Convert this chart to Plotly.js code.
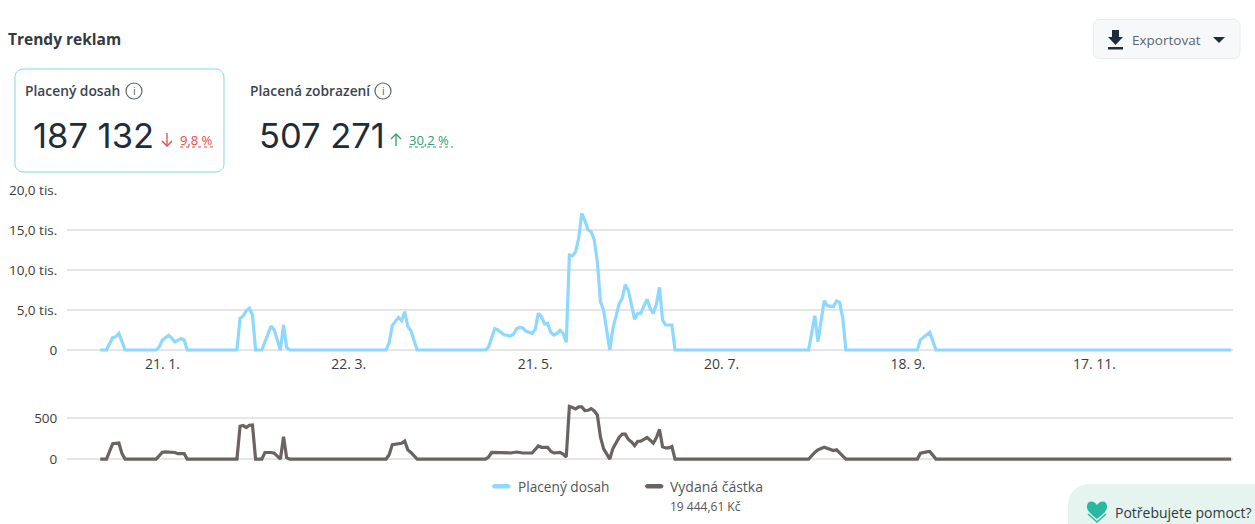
<!DOCTYPE html>
<html lang="cs">
<head>
<meta charset="utf-8">
<script src="https://cdn.plot.ly/plotly-3.0.1.min.js"></script>
<style>html,body{margin:0;padding:0;background:#fff;overflow:hidden}#chart{width:1255px;height:524px}</style>
</head>
<body>
<div id="chart"></div>
<script>
// Day of the year (0 = 1 Jan)
const reachDays = [0,2,4,5,6,8,18,19,20,22,23,24,26,27,28,44,45,46,47,48,49,50,52,54,55,56,58,59,60,61,92,93,94,96,97,98,99,100,102,124,125,127,128,130,132,133,134,135,136,137,138,139,140,141,142,143,144,145,146,147,148,149,150,151,152,153,154,155,156,157,158,159,160,161,162,163,164,165,166,167,168,169,170,171,172,173,174,175,176,177,178,179,180,181,182,184,185,228,230,231,233,234,236,237,238,239,240,263,264,267,269,364];
const reachValues = [0,0,1540,1660,2080,0,0,400,1250,1830,1500,1000,1420,1250,0,0,3960,4250,4920,5210,4375,0,0,1870,3000,2500,0,3130,330,0,0,920,3080,4080,3660,4790,2920,2410,0,0,400,2660,2500,1910,1750,1960,2660,2830,2750,2370,2250,2080,2580,4580,4160,3250,3330,2210,1875,2080,2460,2080,960,11870,11750,12290,13960,17080,16170,15000,14790,13750,11040,6040,5000,2710,0,2660,4375,5750,6460,8170,7410,5625,3830,4580,4580,5500,6330,5210,4580,5710,7830,3750,3125,3125,0,0,4290,1040,6170,5540,5420,6125,5960,3960,0,0,1300,2200,0,0];
const spendDays = [0,2,4,5,6,7,8,18,20,21,24,25,27,28,44,45,46,47,48,49,50,52,53,55,56,58,59,60,61,92,93,94,96,97,98,99,100,102,124,125,126,128,130,132,134,136,139,140,141,142,144,145,146,148,149,150,151,152,153,154,155,156,157,158,159,160,161,162,163,164,165,166,167,168,169,170,171,172,173,174,175,176,177,178,179,180,181,182,183,184,185,228,230,231,233,235,236,237,238,240,263,264,266,267,269,364];
const spendValues = [0,0,187,187,195,66,0,0,83,87,80,66,66,0,0,400,408,384,412,416,0,0,80,80,72,0,272,16,0,0,52,176,192,192,220,112,80,0,0,25,82,82,74,74,86,74,74,115,160,143,143,94,74,82,61,25,640,627,611,635,635,590,594,615,586,537,270,127,53,0,127,189,262,303,303,238,209,164,217,217,238,262,230,193,258,361,148,135,135,152,0,0,80,112,144,112,104,112,72,0,0,72,88,92,0,0];
const xTickDays = [20,80,140,200,260,320];
const xTickLabels = ['21. 1.','22. 3.','21. 5.','20. 7.','18. 9.','17. 11.'];
const reachTicks = [0,5000,10000,15000,20000];
const reachTickLabels = ['0','5,0 tis.','10,0 tis.','15,0 tis.','20,0 tis.'];
const spendTicks = [0,500];
const spendTickLabels = ['0','500'];

const W = 1255, H = 524;
const px = x => x / W, py = y => 1 - y / H;
const BODY = '"Open Sans", sans-serif';
const NUM = 'Inter, sans-serif';

function text(x, y, t, size, color, opts) {
  const o = opts || {};
  const dx = o.xanchor === 'center' ? 0 : -1;
  return Object.assign({xref:'paper', yref:'paper', x:px(x+dx), y:py(y), text:t, showarrow:false,
    xanchor:'left', yanchor:'middle', font:{family:BODY, size:size, color:color}, borderpad:0}, o);
}
function pathOf(cmds) {
  return cmds.map(c => c[0] + c.slice(1).map((v,i) => (i%2===0 ? px(v) : py(v)).toFixed(6)).join(' ')).join(' ');
}
function roundRect(x0,y0,x1,y1,r,fill,stroke,w) {
  const k = r*0.45;
  return {type:'path', xref:'paper', yref:'paper', layer:'below', fillcolor:fill,
    line:{color:stroke, width:w},
    path: pathOf([['M',x0+r,y0],['L',x1-r,y0],['C',x1-k,y0,x1,y0+k,x1,y0+r],['L',x1,y1-r],['C',x1,y1-k,x1-k,y1,x1-r,y1],
      ['L',x0+r,y1],['C',x0+k,y1,x0,y1-k,x0,y1-r],['L',x0,y0+r],['C',x0,y0+k,x0+k,y0,x0+r,y0]]) + ' Z'};
}
function poly(pts, fill, stroke, w) {
  return {type:'path', xref:'paper', yref:'paper', layer:'above', fillcolor:fill||'rgba(0,0,0,0)',
    line:{color:stroke||'rgba(0,0,0,0)', width:w||0},
    path: pathOf(pts.map((p,i)=>[i?'L':'M',p[0],p[1]])) + (fill?' Z':'')};
}
function circle(cx,cy,r,color,w) {
  return {type:'circle', xref:'paper', yref:'paper', x0:px(cx-r), x1:px(cx+r), y0:py(cy+r), y1:py(cy-r),
    line:{color:color,width:w}, fillcolor:'rgba(0,0,0,0)', layer:'above'};
}
function dotted(x0,x1,y,color) {
  return {type:'line', xref:'paper', yref:'paper', x0:px(x0), x1:px(x1), y0:py(y), y1:py(y), layer:'above',
    line:{color:color,width:1,dash:'dot'}};
}

const shapes = [
  roundRect(15,69,224,172,8,'#ffffff','#7FDBDB',1),
  roundRect(1093.5,19.5,1240,58.5,6,'#F7F8FA','#E9EBEF',1),
  // export icon
  poly([[1112,30],[1119,30],[1119,37],[1123,37],[1115.5,45],[1108,37],[1112,37]],'#1F2D3A'),
  poly([[1108,47],[1123,47],[1123,49.5],[1108,49.5]],'#1F2D3A'),
  poly([[1213,37],[1225,37],[1219,43]],'#1F2D3A'),
  // info icons
  circle(134,91,8,'#5A6570',1.2),
  circle(383,91,8,'#5A6570',1.2),
  // arrows
  poly([[167,133],[167,146]],null,'#E5484D',1.3),
  poly([[162,141],[167,146],[172,141]],null,'#E5484D',1.3),
  poly([[396,146],[396,134]],null,'#2E9E6B',1.3),
  poly([[391,139],[396,134],[401,139]],null,'#2E9E6B',1.3),
  dotted(180,216,147,'#E5484D'),
  dotted(409,453,147,'#2E9E6B'),
  // legend swatches
  roundRect(492.5,484.5,510,488,1.7,'#8ED8FF','#8ED8FF',1),
  roundRect(645.5,484.5,663,488,1.7,'#6B6362','#6B6362',1),
  // help pill
  {type:'path', xref:'paper', yref:'paper', layer:'below', fillcolor:'#E6F4EF', line:{width:0,color:'rgba(0,0,0,0)'},
   path: pathOf([['M',1068,524],['L',1068,505],['C',1068,492,1078,484,1090,484],['L',1255,484],['L',1255,524]]) + ' Z'},
  {type:'path', xref:'paper', yref:'paper', layer:'above', fillcolor:'#2BB8A0', line:{width:0,color:'rgba(0,0,0,0)'},
   path: pathOf([['M',1097,505],['C',1093,499,1086,501,1087,508],['C',1088,512,1093,516,1097,519],['C',1101,516,1106,512,1107,508],['C',1108,501,1101,499,1097,505]]) + ' Z'},
  poly([[1088,514],[1097,522],[1106,514]],null,'#2BB8A0',1.5)
];

const annotations = [
  text(8,39,'Trendy reklam',15.5,'#333a40',{font:{family:BODY,size:15.5,color:'#333a40',weight:700}}),
  text(1132,40,'Exportovat',13.5,'#5A6570'),
  text(25,91,'Placený dosah',13.8,'#3A4550',{font:{family:BODY,size:13.8,color:'#3A4550',weight:600}}),
  text(250,91,'Placená zobrazení',13.8,'#3A4550',{font:{family:BODY,size:13.8,color:'#3A4550',weight:600}}),
  text(134,91,'i',11,'#5A6570',{xanchor:'center'}),
  text(383,91,'i',11,'#5A6570',{xanchor:'center'}),
  text(33,135,'187 132',34.5,'#1F2D3A',{font:{family:NUM,size:34.5,color:'#1F2D3A',weight:400}}),
  text(259,135,'507 271',34.5,'#1F2D3A',{font:{family:NUM,size:34.5,color:'#1F2D3A',weight:400}}),
  text(180,140,'9,8 %',13,'#E5484D'),
  text(409,140,'30,2 %',13,'#2E9E6B'),
  text(518,486,'Placený dosah',13.7,'#555'),
  text(670,486,'Vydaná částka',14,'#555'),
  text(670,506,'19 444,61 Kč',12,'#555'),
  text(1115,512,'Potřebujete pomoct?',14,'#2F3A40',{font:{family:BODY,size:14,color:'#2F3A40',weight:500}})
];

const data = [
  {type:'scatter', mode:'lines', name:'Placený dosah', x:reachDays, y:reachValues, xaxis:'x', yaxis:'y',
   line:{color:'#8ED8FF', width:3.2, shape:'linear'}, hoverinfo:'skip'},
  {type:'scatter', mode:'lines', name:'Vydaná částka', x:spendDays, y:spendValues, xaxis:'x', yaxis:'y2',
   line:{color:'#6B6362', width:3.2, shape:'linear'}, hoverinfo:'skip'}
];

const TICK = '#3c3c3c';
const layout = {
  width:W, height:H, margin:{l:0,r:0,t:0,b:0,pad:0}, paper_bgcolor:'#fff', plot_bgcolor:'#fff',
  showlegend:false, hovermode:false, shapes:shapes, annotations:annotations,
  font:{family:BODY, size:13.5, color:TICK},
  xaxis:{domain:[px(67),px(1233)], range:[-10.7,364.6], anchor:'y', tickmode:'array', tickvals:xTickDays, ticktext:xTickLabels,
    showgrid:false, zeroline:false, showline:false, ticks:'', ticklen:0,
    tickfont:{family:BODY,size:14,color:TICK}, fixedrange:true},
  // the ranges start a little under zero so the thick line is not clipped at the baseline
  yaxis:{domain:[py(354),py(190)], range:[-500,20000], tickmode:'array', tickvals:reachTicks, ticktext:reachTickLabels,
    showgrid:true, gridcolor:'#E6E6E6', gridwidth:1.5, zeroline:false, showline:false, ticks:'outside', ticklen:6, tickcolor:'rgba(0,0,0,0)',
    tickfont:{family:BODY,size:13.5,color:TICK}, fixedrange:true},
  yaxis2:{domain:[py(463),py(395)], range:[-48,780], anchor:'x', tickmode:'array', tickvals:spendTicks, ticktext:spendTickLabels,
    showgrid:true, gridcolor:'#E6E6E6', gridwidth:1.5, zeroline:false, showline:false, ticks:'outside', ticklen:6, tickcolor:'rgba(0,0,0,0)',
    tickfont:{family:BODY,size:13.5,color:TICK}, fixedrange:true}
};
Plotly.newPlot('chart', data, layout, {displayModeBar:false, staticPlot:true});
</script>
</body>
</html>
